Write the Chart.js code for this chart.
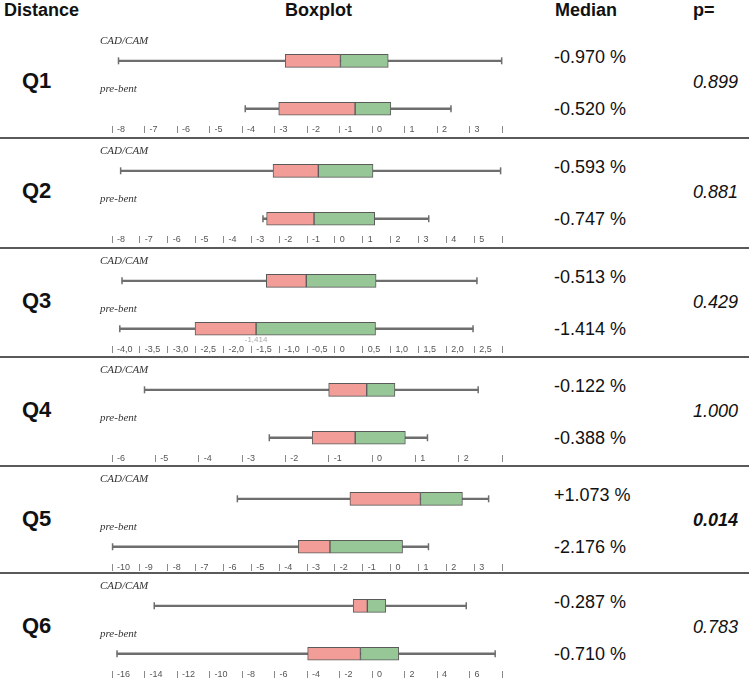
<!DOCTYPE html>
<html>
<head>
<meta charset="utf-8">
<script src="https://cdn.jsdelivr.net/npm/chart.js@4.4.1/dist/chart.umd.min.js"></script>
<style>
  body { margin: 0; background: #fff; font-family: 'Liberation Sans', Arial, sans-serif; color: #111; }
  #page { position: relative; width: 749px; height: 679px; overflow: hidden; background: #fff; }
  .hdr { position: absolute; top: 0; font-weight: bold; font-size: 18px; line-height: 20px; white-space: nowrap; }
  .row { position: absolute; left: 0; width: 749px; }
  .sep { position: absolute; left: 0; width: 749px; height: 2px; background: #5a5a5a; }
  .qlabel { position: absolute; left: 22px; font-weight: bold; font-size: 22px; line-height: 24px; }
  .med { position: absolute; left: 554px; font-size: 18px; line-height: 20px; white-space: nowrap; }
  .pval { position: absolute; left: 693px; font-size: 18px; line-height: 20px; font-style: italic; }
  .pval.sig { font-weight: bold; }
  canvas { position: absolute; left: 85px; top: 0; }
</style>
</head>
<body>
<div id="page">
  <div class="hdr" style="left:4px">Distance</div>
  <div class="hdr" style="left:285px">Boxplot</div>
  <div class="hdr" style="left:555px">Median</div>
  <div class="hdr" style="left:693px">p=</div>
</div>
<script>
// --- data ---
const distances = ['Q1', 'Q2', 'Q3', 'Q4', 'Q5', 'Q6'];
const groups = ['CAD/CAM', 'pre-bent'];

const cadMin    = [-7.80, -7.69, -3.82, -5.25, -5.50, -13.40];
const cadQ1     = [-2.67, -2.22, -1.23, -1.00, -1.46, -1.16];
const cadMedian = [-0.970, -0.593, -0.513, -0.122, 1.073, -0.287];
const cadQ3     = [0.50, 1.37, 0.74, 0.53, 2.58, 0.85];
const cadMax    = [3.99, 5.95, 2.55, 2.45, 3.52, 5.80];

const preMin    = [-3.90, -2.58, -3.86, -2.37, -9.98, -15.69];
const preQ1     = [-2.87, -2.45, -2.51, -1.38, -3.31, -3.96];
const preMedian = [-0.520, -0.747, -1.414, -0.388, -2.176, -0.710];
const preQ3     = [0.58, 1.43, 0.73, 0.77, 0.43, 1.65];
const preMax    = [2.43, 3.37, 2.48, 1.28, 1.36, 7.58];

const cadMedianText = ['-0.970 %', '-0.593 %', '-0.513 %', '-0.122 %', '+1.073 %', '-0.287 %'];
const preMedianText = ['-0.520 %', '-0.747 %', '-1.414 %', '-0.388 %', '-2.176 %', '-0.710 %'];
const pValues = ['0.899', '0.881', '0.429', '1.000', '0.014', '0.783'];
const significant = [false, false, false, false, true, false];
const medianNotes = ['', '', '-1,414', '', '', ''];

const axisMin  = [-8, -8, -4, -6, -10, -16];
const axisMax  = [4, 6, 3, 3, 4, 8];
const axisStep = [1, 1, 0.5, 1, 1, 2];
const tickLabels = [
    ['-8', '-7', '-6', '-5', '-4', '-3', '-2', '-1', '0', '1', '2', '3', ''],
    ['-8', '-7', '-6', '-5', '-4', '-3', '-2', '-1', '0', '1', '2', '3', '4', '5', ''],
    ['-4,0', '-3,5', '-3,0', '-2,5', '-2,0', '-1,5', '-1,0', '-0,5', '0', '0,5', '1,0', '1,5', '2,0', '2,5', ''],
    ['-6', '-5', '-4', '-3', '-2', '-1', '0', '1', '2', ''],
    ['-10', '-9', '-8', '-7', '-6', '-5', '-4', '-3', '-2', '-1', '0', '1', '2', '3', ''],
    ['-16', '-14', '-12', '-10', '-8', '-6', '-4', '-2', '0', '2', '4', '6', '']
];

// --- layout ---
const rowTops = [28, 138, 248, 357, 466, 573];
const RED = '#f29d98';
const GREEN = '#97c797';
const EDGE = '#5a5a5a';
const WHISKER = '#6e6e6e';

// draws the group names above each box and the small median note
const groupLabels = {
    id: 'groupLabels',
    afterDatasetsDraw(chart, args, opts) {
        const { ctx, chartArea, scales: { x, y } } = chart;
        ctx.save();
        ctx.font = 'italic 11px "Liberation Serif", "Times New Roman", serif';
        ctx.fillStyle = '#333';
        ctx.textBaseline = 'middle';
        groups.forEach((g, k) => ctx.fillText(g, chartArea.left - 12, y.getPixelForValue(k) - 20));
        const note = medianNotes[opts.row];
        if (note) {
            ctx.font = '8px "Liberation Sans", Arial, sans-serif';
            ctx.fillStyle = '#aaa';
            ctx.textAlign = 'center';
            ctx.fillText(note, x.getPixelForValue(preMedian[opts.row]), y.getPixelForValue(1) + 11);
        }
        ctx.restore();
    }
};

const page = document.getElementById('page');

distances.forEach((name, i) => {
    const top = rowTops[i];
    if (i > 0) {
        const sep = document.createElement('div');
        sep.className = 'sep';
        sep.style.top = (top - 1) + 'px';
        page.appendChild(sep);
    }

    const row = document.createElement('div');
    row.className = 'row';
    row.style.top = top + 'px';
    row.innerHTML = `
        <div class="qlabel" style="top:${53 - 12}px">${name}</div>
        <div class="med" style="top:${29 - 10}px">${cadMedianText[i]}</div>
        <div class="med" style="top:${81 - 10}px">${preMedianText[i]}</div>
        <div class="pval${significant[i] ? ' sig' : ''}" style="top:${54 - 10}px">${pValues[i]}</div>
        <canvas width="445" height="110"></canvas>`;
    page.appendChild(row);

    const canvas = row.querySelector('canvas');
    new Chart(canvas, {
        type: 'bar',
        data: {
            labels: [0, 1],
            datasets: [
                {
                    data: [[cadMin[i], cadMax[i]], [preMin[i], preMax[i]]],
                    backgroundColor: WHISKER, barThickness: 1.6, grouped: false, order: 3, clip: false
                },
                {
                    data: [[cadQ1[i], cadMedian[i]], [preQ1[i], preMedian[i]]],
                    backgroundColor: RED, borderColor: EDGE, borderWidth: 1, borderSkipped: false,
                    barThickness: 13, grouped: false, order: 1, clip: false
                },
                {
                    data: [[cadMedian[i], cadQ3[i]], [preMedian[i], preQ3[i]]],
                    backgroundColor: GREEN, borderColor: EDGE, borderWidth: 1, borderSkipped: false,
                    barThickness: 13, grouped: false, order: 1, clip: false
                },
                {
                    type: 'scatter',
                    data: [
                        { x: cadMin[i], y: 0 }, { x: cadMax[i], y: 0 },
                        { x: preMin[i], y: 1 }, { x: preMax[i], y: 1 }
                    ],
                    pointStyle: 'line', pointRotation: 90, pointRadius: 3.5,
                    pointBorderWidth: 1.5, pointBorderColor: WHISKER, borderColor: WHISKER,
                    order: 2, clip: false
                }
            ]
        },
        options: {
            indexAxis: 'y',
            responsive: false,
            animation: false,
            events: [],
            layout: { padding: { left: 27, right: 28, top: 4, bottom: 0 } },
            plugins: {
                legend: { display: false },
                tooltip: { enabled: false },
                groupLabels: { row: i }
            },
            scales: {
                y: { type: 'linear', min: -0.57, max: 1.36, reverse: true, display: false, offset: false },
                x: {
                    type: 'linear',
                    min: axisMin[i],
                    max: axisMax[i],
                    border: { display: false },
                    grid: { drawOnChartArea: false, tickLength: 7, tickColor: '#8a8a8a', tickWidth: 1 },
                    afterFit: (scale) => { scale.height = 12; },
                    ticks: {
                        stepSize: axisStep[i],
                        autoSkip: false,
                        maxRotation: 0,
                        align: 'start',
                        mirror: true,
                        padding: -9,
                        color: '#555',
                        font: { size: 9, family: "'Liberation Sans', Arial, sans-serif" },
                        callback: (v, idx) => '  ' + tickLabels[i][idx]
                    }
                }
            }
        },
        plugins: [groupLabels]
    });
});
</script>
</body>
</html>
